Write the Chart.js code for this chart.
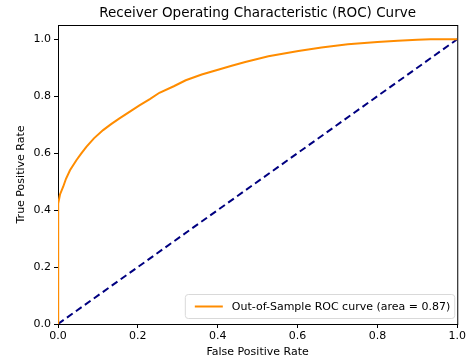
<!DOCTYPE html>
<html>
<head>
<meta charset="utf-8">
<script src="https://cdn.jsdelivr.net/npm/chart.js@4"></script>
<style>
  html, body { margin: 0; padding: 0; background: #fff; }
  #wrap { width: 468px; height: 363px; }
</style>
</head>
<body>
<div id="wrap"><canvas id="roc"></canvas></div>
<script>
// values
const fpr = [0, 0, 0.001, 0.005, 0.013, 0.02, 0.03, 0.046, 0.058, 0.071, 0.09, 0.113, 0.133, 0.154, 0.18, 0.204, 0.23, 0.254, 0.29, 0.32, 0.36, 0.403, 0.435, 0.469, 0.527, 0.602, 0.66, 0.726, 0.8, 0.851, 0.9, 0.933, 1.0]
const tpr = [0, 0.39, 0.423, 0.455, 0.482, 0.51, 0.54, 0.575, 0.598, 0.622, 0.652, 0.681, 0.702, 0.722, 0.746, 0.768, 0.79, 0.812, 0.835, 0.856, 0.876, 0.894, 0.907, 0.92, 0.94, 0.959, 0.971, 0.982, 0.99, 0.995, 0.998, 1.0, 1.0]
const chanceX = [0, 1]
const chanceY = [0, 1]
const xTicks = [0, 0.2, 0.4, 0.6, 0.8, 1.0]
const yTicks = [0, 0.2, 0.4, 0.6, 0.8, 1.0]
const rocLabel = "Out-of-Sample ROC curve (area = 0.87)"

const FONT = "'DejaVu Sans', sans-serif"
Chart.defaults.font.family = FONT
Chart.defaults.color = "#000"

function toPoints(xs, ys){
    var pts = []
    for(var i = 0; i < xs.length; i++){
        pts.push({x: xs[i], y: ys[i]})
    }
    return pts
}

// box around plot area (under the lines) + legend inside, bottom right
const framePlugin = {
    id: "frame",
    beforeDatasetsDraw(chart){
        const ctx = chart.ctx
        const a = chart.chartArea
        ctx.save()
        ctx.strokeStyle = "#000"
        ctx.lineWidth = 1
        ctx.strokeRect(a.left + 0.5, a.top + 0.5, a.right - a.left, a.bottom - a.top)
        ctx.restore()
    },
    afterDatasetsDraw(chart){
        const ctx = chart.ctx
        const a = chart.chartArea
        ctx.save()
        ctx.font = "11px " + FONT
        const tw = ctx.measureText(rocLabel).width
        const w = tw + 51, h = 24
        const x = a.right - 3 - w, y = a.bottom - 6 - h
        ctx.beginPath()
        ctx.roundRect(x + 0.5, y + 0.5, w, h, 3)
        ctx.fillStyle = "rgba(255,255,255,0.8)"
        ctx.fill()
        ctx.strokeStyle = "#d9d9d9"
        ctx.lineWidth = 1
        ctx.stroke()
        ctx.beginPath()
        ctx.moveTo(x + 10, y + h / 2 + 0.5)
        ctx.lineTo(x + 38, y + h / 2 + 0.5)
        ctx.strokeStyle = "darkorange"
        ctx.lineWidth = 2
        ctx.stroke()
        ctx.fillStyle = "#000"
        ctx.textBaseline = "middle"
        ctx.fillText(rocLabel, x + 47, y + h / 2 + 1)
        ctx.restore()
    }
}

new Chart(document.getElementById("roc"), {
    type: "scatter",
    data: {
        datasets: [
            {
                label: rocLabel,
                data: toPoints(fpr, tpr),
                showLine: true,
                borderColor: "darkorange",
                borderWidth: 2,
                pointRadius: 0,
                tension: 0
            },
            {
                label: "chance",
                data: toPoints(chanceX, chanceY),
                showLine: true,
                borderColor: "navy",
                borderWidth: 2,
                borderDash: [7, 4],
                pointRadius: 0
            }
        ]
    },
    options: {
        responsive: true,
        maintainAspectRatio: false,
        animation: false,
        layout: { padding: { top: 0, right: 8, left: 0, bottom: 0 } },
        plugins: {
            legend: { display: false },
            tooltip: { enabled: false },
            title: {
                display: true,
                fullSize: false,
                text: "Receiver Operating Characteristic (ROC) Curve",
                font: { size: 13.5, weight: "normal" },
                color: "#000",
                padding: { top: 5, bottom: 3.8 }
            }
        },
        scales: {
            x: {
                type: "linear",
                min: 0,
                max: 1,
                afterBuildTicks: axis => { axis.ticks = xTicks.map(v => ({value: v})) },
                afterFit: axis => { axis.height = 39 },
                ticks: {
                    font: { size: 11 },
                    color: "#000",
                    padding: 2,
                    maxRotation: 0,
                    callback: v => v.toFixed(1)
                },
                grid: { drawOnChartArea: false, drawTicks: true, tickLength: 4, color: "#000" },
                border: { display: true, color: "#000" },
                title: { display: true, text: "False Positive Rate", font: { size: 11 }, color: "#000", padding: { top: 2, bottom: 4 } }
            },
            y: {
                type: "linear",
                min: 0,
                max: 1.05,
                afterBuildTicks: axis => { axis.ticks = yTicks.map(v => ({value: v})) },
                afterFit: axis => { axis.width = 58 },
                ticks: {
                    font: { size: 11 },
                    color: "#000",
                    padding: 3,
                    callback: v => v.toFixed(1)
                },
                grid: { drawOnChartArea: false, drawTicks: true, tickLength: 4, color: "#000" },
                border: { display: true, color: "#000" },
                title: { display: true, text: "True Positive Rate", font: { size: 11 }, color: "#000", padding: { top: 15, bottom: 2 } }
            }
        }
    },
    plugins: [framePlugin]
})
</script>
</body>
</html>
